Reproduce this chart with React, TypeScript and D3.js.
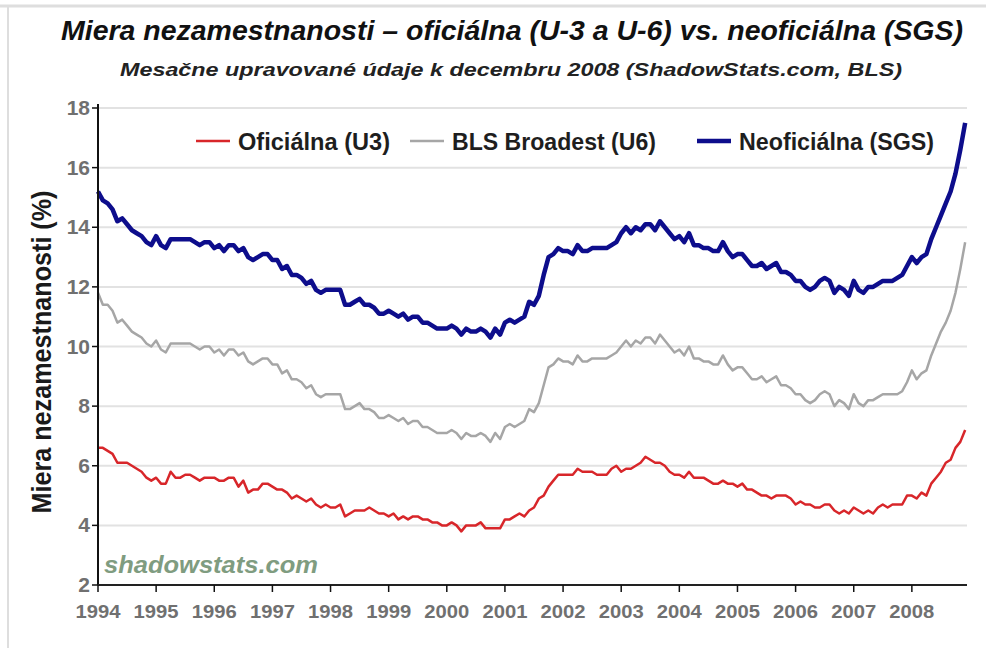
import * as d3 from "d3";

// monthly values, Jan 1994 .. Dec 2008
const years = d3.range(1994, 2009);

const u3: number[] = [
  6.6, 6.6, 6.5, 6.4, 6.1, 6.1, 6.1, 6.0, 5.9, 5.8, 5.6, 5.5,
  5.6, 5.4, 5.4, 5.8, 5.6, 5.6, 5.7, 5.7, 5.6, 5.5, 5.6, 5.6,
  5.6, 5.5, 5.5, 5.6, 5.6, 5.3, 5.5, 5.1, 5.2, 5.2, 5.4, 5.4,
  5.3, 5.2, 5.2, 5.1, 4.9, 5.0, 4.9, 4.8, 4.9, 4.7, 4.6, 4.7,
  4.6, 4.6, 4.7, 4.3, 4.4, 4.5, 4.5, 4.5, 4.6, 4.5, 4.4, 4.4,
  4.3, 4.4, 4.2, 4.3, 4.2, 4.3, 4.3, 4.2, 4.2, 4.1, 4.1, 4.0,
  4.0, 4.1, 4.0, 3.8, 4.0, 4.0, 4.0, 4.1, 3.9, 3.9, 3.9, 3.9,
  4.2, 4.2, 4.3, 4.4, 4.3, 4.5, 4.6, 4.9, 5.0, 5.3, 5.5, 5.7,
  5.7, 5.7, 5.7, 5.9, 5.8, 5.8, 5.8, 5.7, 5.7, 5.7, 5.9, 6.0,
  5.8, 5.9, 5.9, 6.0, 6.1, 6.3, 6.2, 6.1, 6.1, 6.0, 5.8, 5.7,
  5.7, 5.6, 5.8, 5.6, 5.6, 5.6, 5.5, 5.4, 5.4, 5.5, 5.4, 5.4,
  5.3, 5.4, 5.2, 5.2, 5.1, 5.0, 5.0, 4.9, 5.0, 5.0, 5.0, 4.9,
  4.7, 4.8, 4.7, 4.7, 4.6, 4.6, 4.7, 4.7, 4.5, 4.4, 4.5, 4.4,
  4.6, 4.5, 4.4, 4.5, 4.4, 4.6, 4.7, 4.6, 4.7, 4.7, 4.7, 5.0,
  5.0, 4.9, 5.1, 5.0, 5.4, 5.6, 5.8, 6.1, 6.2, 6.6, 6.8, 7.2,
];

const u6: number[] = [
  11.8, 11.4, 11.4, 11.2, 10.8, 10.9, 10.7, 10.5, 10.4, 10.3, 10.1, 10.0,
  10.2, 9.9, 9.8, 10.1, 10.1, 10.1, 10.1, 10.1, 10.0, 9.9, 10.0, 10.0,
  9.8, 9.9, 9.7, 9.9, 9.9, 9.7, 9.8, 9.5, 9.4, 9.5, 9.6, 9.6,
  9.4, 9.4, 9.1, 9.2, 8.9, 8.9, 8.8, 8.6, 8.7, 8.4, 8.3, 8.4,
  8.4, 8.4, 8.4, 7.9, 7.9, 8.0, 8.1, 7.9, 7.9, 7.8, 7.6, 7.6,
  7.7, 7.6, 7.5, 7.6, 7.4, 7.5, 7.5, 7.3, 7.3, 7.2, 7.1, 7.1,
  7.1, 7.2, 7.1, 6.9, 7.1, 7.0, 7.0, 7.1, 7.0, 6.8, 7.1, 6.9,
  7.3, 7.4, 7.3, 7.4, 7.5, 7.9, 7.8, 8.1, 8.7, 9.3, 9.4, 9.6,
  9.5, 9.5, 9.4, 9.7, 9.5, 9.5, 9.6, 9.6, 9.6, 9.6, 9.7, 9.8,
  10.0, 10.2, 10.0, 10.2, 10.1, 10.3, 10.3, 10.1, 10.4, 10.2, 10.0, 9.8,
  9.9, 9.7, 10.0, 9.6, 9.6, 9.5, 9.5, 9.4, 9.4, 9.7, 9.4, 9.2,
  9.3, 9.3, 9.1, 8.9, 8.9, 9.0, 8.8, 8.9, 9.0, 8.7, 8.7, 8.6,
  8.4, 8.4, 8.2, 8.1, 8.2, 8.4, 8.5, 8.4, 8.0, 8.2, 8.1, 7.9,
  8.4, 8.1, 8.0, 8.2, 8.2, 8.3, 8.4, 8.4, 8.4, 8.4, 8.5, 8.8,
  9.2, 8.9, 9.1, 9.2, 9.7, 10.1, 10.5, 10.8, 11.2, 11.8, 12.6, 13.5,
];

const sgs: number[] = [
  15.2, 14.9, 14.8, 14.6, 14.2, 14.3, 14.1, 13.9, 13.8, 13.7, 13.5, 13.4,
  13.7, 13.4, 13.3, 13.6, 13.6, 13.6, 13.6, 13.6, 13.5, 13.4, 13.5, 13.5,
  13.3, 13.4, 13.2, 13.4, 13.4, 13.2, 13.3, 13.0, 12.9, 13.0, 13.1, 13.1,
  12.9, 12.9, 12.6, 12.7, 12.4, 12.4, 12.3, 12.1, 12.2, 11.9, 11.8, 11.9,
  11.9, 11.9, 11.9, 11.4, 11.4, 11.5, 11.6, 11.4, 11.4, 11.3, 11.1, 11.1,
  11.2, 11.1, 11.0, 11.1, 10.9, 11.0, 11.0, 10.8, 10.8, 10.7, 10.6, 10.6,
  10.6, 10.7, 10.6, 10.4, 10.6, 10.5, 10.5, 10.6, 10.5, 10.3, 10.6, 10.4,
  10.8, 10.9, 10.8, 10.9, 11.0, 11.5, 11.4, 11.7, 12.4, 13.0, 13.1, 13.3,
  13.2, 13.2, 13.1, 13.4, 13.2, 13.2, 13.3, 13.3, 13.3, 13.3, 13.4, 13.5,
  13.8, 14.0, 13.8, 14.0, 13.9, 14.1, 14.1, 13.9, 14.2, 14.0, 13.8, 13.6,
  13.7, 13.5, 13.8, 13.4, 13.4, 13.3, 13.3, 13.2, 13.2, 13.5, 13.2, 13.0,
  13.1, 13.1, 12.9, 12.7, 12.7, 12.8, 12.6, 12.7, 12.8, 12.5, 12.5, 12.4,
  12.2, 12.2, 12.0, 11.9, 12.0, 12.2, 12.3, 12.2, 11.8, 12.0, 11.9, 11.7,
  12.2, 11.9, 11.8, 12.0, 12.0, 12.1, 12.2, 12.2, 12.2, 12.3, 12.4, 12.7,
  13.0, 12.8, 13.0, 13.1, 13.6, 14.0, 14.4, 14.8, 15.2, 15.8, 16.6, 17.5,
];

const yTicks = [2, 4, 6, 8, 10, 12, 14, 16, 18];

const series = [
  { name: "Oficiálna (U3)", values: u3, color: "#d8262a", width: 2.5 },
  { name: "BLS Broadest (U6)", values: u6, color: "#a6a6a6", width: 2.5 },
  { name: "Neoficiálna (SGS)", values: sgs, color: "#0d0d8c", width: 4.5 },
];

// legend layout
const legendX = [196, 410, 697];
const legendTextLen = [152, 204, 195];

const W = 986;
const H = 648;
const font = "'Liberation Sans', Arial, sans-serif";

export default function App() {
  const x = d3.scaleLinear().domain([1994, 2009]).range([98, 970]);
  const y = d3.scaleLinear().domain([2, 18]).range([585, 108]);

  const line = d3
    .line<number>()
    .x((_, i) => x(1994 + i / 12))
    .y((d) => y(d));

  return (
    <svg
      width={W}
      height={H}
      style={{ position: "absolute", left: 0, top: 0, background: "#fff" }}
      fontFamily={font}
    >
      <rect width={W} height={H} fill="#fff" />
      <line x1={0} x2={W} y1={6} y2={6} stroke="#dedede" strokeWidth={3} />
      <line x1={8} x2={8} y1={6} y2={H} stroke="#dedede" strokeWidth={2} />

      <text
        x={512}
        y={40}
        textAnchor="middle"
        fontSize={27}
        fontWeight="bold"
        fontStyle="italic"
        fill="#111"
        textLength={902}
        lengthAdjust="spacingAndGlyphs"
      >
        Miera nezamestnanosti – oficiálna (U-3 a U-6) vs. neoficiálna (SGS)
      </text>
      <text
        x={511}
        y={76}
        textAnchor="middle"
        fontSize={18}
        fontWeight="bold"
        fontStyle="italic"
        fill="#222"
        textLength={782}
        lengthAdjust="spacingAndGlyphs"
      >
        Mesačne upravované údaje k decembru 2008 (ShadowStats.com, BLS)
      </text>

      {yTicks.map((t) => (
        <g key={t}>
          {t > 2 && (
            <line x1={98} x2={967} y1={y(t)} y2={y(t)} stroke="#e2e2e2" strokeWidth={2} />
          )}
          <line x1={92} x2={98} y1={y(t)} y2={y(t)} stroke="#111" strokeWidth={1.5} />
          <text
            x={90}
            y={y(t) + 7}
            textAnchor="end"
            fontSize={21}
            fontWeight="bold"
            fill="#707070"
          >
            {t}
          </text>
        </g>
      ))}

      <text
        transform={`translate(51,352) rotate(-90)`}
        textAnchor="middle"
        fontSize={28}
        fontWeight="bold"
        fill="#1a1a1a"
        textLength={323}
        lengthAdjust="spacingAndGlyphs"
      >
        Miera nezamestnanosti (%)
      </text>

      <text
        x={104}
        y={573}
        fontSize={23}
        fontWeight="bold"
        fontStyle="italic"
        fill="#7f9c80"
        textLength={214}
        lengthAdjust="spacingAndGlyphs"
      >
        shadowstats.com
      </text>

      {series.map((s) => (
        <path
          key={s.name}
          d={line(s.values) ?? ""}
          fill="none"
          stroke={s.color}
          strokeWidth={s.width}
          strokeLinejoin="round"
        />
      ))}

      <line x1={98} x2={98} y1={104} y2={585} stroke="#111" strokeWidth={2} />
      <line x1={98} x2={967} y1={585} y2={585} stroke="#222" strokeWidth={2} />
      {years.map((yr) => (
        <g key={yr}>
          <line x1={x(yr)} x2={x(yr)} y1={585} y2={592} stroke="#111" strokeWidth={1.5} />
          <text
            x={x(yr)}
            y={618}
            textAnchor="middle"
            fontSize={19}
            fontWeight="bold"
            fill="#707070"
            textLength={45}
            lengthAdjust="spacingAndGlyphs"
          >
            {yr}
          </text>
        </g>
      ))}

      {series.map((s, i) => (
        <g key={s.name}>
          <line
            x1={legendX[i]}
            x2={legendX[i] + 34}
            y1={141}
            y2={141}
            stroke={s.color}
            strokeWidth={s.width}
          />
          <text
            x={legendX[i] + 42}
            y={150}
            fontSize={23}
            fontWeight="bold"
            fill="#1e1e1e"
            textLength={legendTextLen[i]}
            lengthAdjust="spacingAndGlyphs"
          >
            {s.name}
          </text>
        </g>
      ))}
    </svg>
  );
}
